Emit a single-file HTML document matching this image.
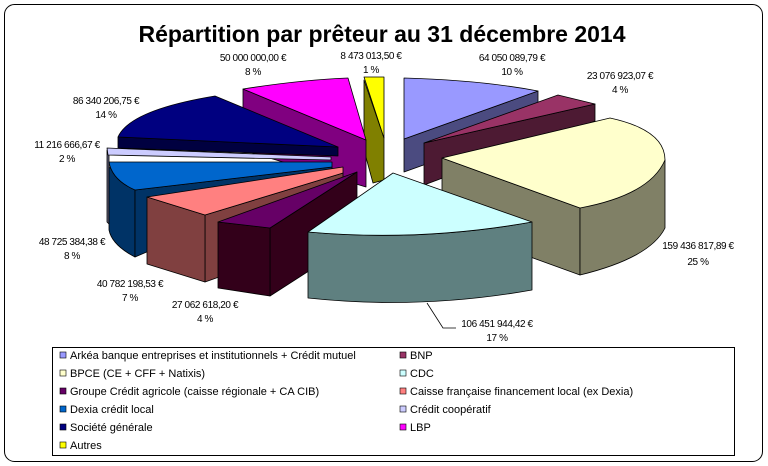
<!DOCTYPE html>
<html><head><meta charset="utf-8"><style>
body{margin:0;background:#fff;}
svg{display:block;font-family:"Liberation Sans",sans-serif;}
.l{font-size:10px;text-anchor:middle;letter-spacing:-0.4px}
.g{font-size:11px}
</style></head><body>
<svg width="768" height="466" viewBox="0 0 768 466">
<rect x="4.5" y="4.5" width="758" height="457" rx="10" fill="#fff" stroke="#000"/>
<text x="382" y="42" font-size="23" font-weight="bold" text-anchor="middle">Répartition par prêteur au 31 décembre 2014</text>
<g stroke="#000" stroke-width="0.8" stroke-linejoin="round">
<polygon points="404,139 538,91 538,124 404,172" fill="#4B4B80"/>
<path d="M404,78 Q480,80 538,91 L404,139 Z" fill="#9999FF"/>
<polygon points="424,143 595,104 595,121 424,185" fill="#4D1A33"/>
<polygon points="424,143 558,95 595,104" fill="#993366"/>
<polygon points="364,80 384,138 384,180 373,183 364,150" fill="#808000"/>
<polygon points="364,77 384,77 384,138" fill="#FFFF00"/>
<polygon points="243,89 366,140 366,187 243,150" fill="#800080"/>
<path d="M243,89 Q300,80 348,78 L366,140 Z" fill="#FF00FF"/>
<path d="M442,158 L580,208 L580,275 L442,225 Z" fill="#808066"/>
<path d="M580,208 Q650,190 665,160 L665,228 Q650,258 580,275 Z" fill="#808066"/>
<path d="M442,158 L610,118 Q665,130 665,160 Q650,195 580,208 Z" fill="#FFFFCC"/>
<polygon points="118,137 338,147 338,156 118,148" fill="#000040"/>
<path d="M118,137 Q130,110 215,96 L338,147 Z" fill="#000080"/>
<polygon points="107,150 109,155 109,224 107,222" fill="#666680"/>
<polygon points="107,148 331,157 331,160 108,155" fill="#CCCCFF"/>
<path d="M109,167 L135,190 L135,257 Q112,245 109,230 Z" fill="#003366"/>
<polygon points="135,190 332,167 332,173 135,257" fill="#003366"/>
<path d="M109,162 L332,162 L332,167 L135,190 Q112,180 109,162 Z" fill="#0066CC"/>
<polygon points="205,215 343,173 343,233 205,282" fill="#804040"/>
<polygon points="147,197 205,215 205,282 147,264" fill="#804040"/>
<polygon points="147,197 343,167 343,173 205,215" fill="#FF8080"/>
<polygon points="270,228 357,172 357,240 270,296" fill="#33001A"/>
<polygon points="218,222 270,228 270,296 218,288" fill="#33001A"/>
<polygon points="218,222 357,172 270,228" fill="#660066"/>
<path d="M308,232 Q420,242 532,222 L532,290 Q420,310 308,298 Z" fill="#5F8080"/>
<path d="M393,173 L532,222 Q420,242 308,232 Z" fill="#CCFFFF"/>
</g>
<polyline points="427,303 443,328 456,328" fill="none" stroke="#000" stroke-width="0.8"/>
<g class="l">
<text x="512" y="61">64 050 089,79 €</text><text x="512" y="75">10 %</text>
<text x="620" y="79">23 076 923,07 €</text><text x="620" y="93">4 %</text>
<text x="698" y="249">159 436 817,89 €</text><text x="698" y="265">25 %</text>
<text x="497" y="327">106 451 944,42 €</text><text x="497" y="341">17 %</text>
<text x="205" y="308">27 062 618,20 €</text><text x="205" y="322">4 %</text>
<text x="130" y="287">40 782 198,53 €</text><text x="130" y="301">7 %</text>
<text x="72" y="245">48 725 384,38 €</text><text x="72" y="259">8 %</text>
<text x="67" y="148">11 216 666,67 €</text><text x="67" y="162">2 %</text>
<text x="106" y="104">86 340 206,75 €</text><text x="106" y="118">14 %</text>
<text x="253" y="61">50 000 000,00 €</text><text x="253" y="75">8 %</text>
<text x="371" y="59">8 473 013,50 €</text><text x="371" y="73">1 %</text>
</g>
<rect x="52.5" y="347.5" width="682" height="108" fill="#fff" stroke="#000"/>
<g class="g" stroke="#000" stroke-width="0.6">
<rect x="60" y="352" width="6" height="6" fill="#9999FF"/><rect x="400" y="352" width="6" height="6" fill="#993366"/>
<rect x="60" y="370" width="6" height="6" fill="#FFFFCC"/><rect x="400" y="370" width="6" height="6" fill="#CCFFFF"/>
<rect x="60" y="388" width="6" height="6" fill="#660066"/><rect x="400" y="388" width="6" height="6" fill="#FF8080"/>
<rect x="60" y="406" width="6" height="6" fill="#0066CC"/><rect x="400" y="406" width="6" height="6" fill="#CCCCFF"/>
<rect x="60" y="424" width="6" height="6" fill="#000080"/><rect x="400" y="424" width="6" height="6" fill="#FF00FF"/>
<rect x="60" y="442" width="6" height="6" fill="#FFFF00"/>
</g>
<g class="g">
<text x="70" y="359">Arkéa banque entreprises et institutionnels + Crédit mutuel</text><text x="410" y="359">BNP</text>
<text x="70" y="377">BPCE (CE + CFF + Natixis)</text><text x="410" y="377">CDC</text>
<text x="70" y="395">Groupe Crédit agricole (caisse régionale + CA CIB)</text><text x="410" y="395">Caisse française financement local (ex Dexia)</text>
<text x="70" y="413">Dexia crédit local</text><text x="410" y="413">Crédit coopératif</text>
<text x="70" y="431">Société générale</text><text x="410" y="431">LBP</text>
<text x="70" y="449">Autres</text>
</g>
</svg>
</body></html>
